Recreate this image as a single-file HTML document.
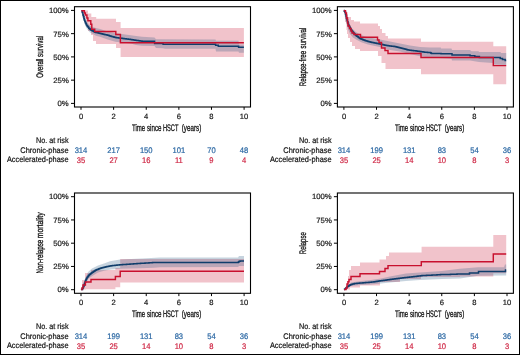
<!DOCTYPE html>
<html><head><meta charset="utf-8"><style>
html,body{margin:0;padding:0;background:#fff;width:520px;height:355px;overflow:hidden;}
svg{display:block;font-family:"Liberation Sans", sans-serif;will-change:transform;text-rendering:geometricPrecision;}
</style></head><body>
<svg width="520" height="355" viewBox="0 0 520 355">
<rect x="0" y="0" width="520" height="355" fill="#fff"/>
<path d="M81.40,10.60L88.00,10.60L88.00,13.40L91.30,13.40L91.30,16.90L96.20,16.90L96.20,18.80L116.00,18.80L116.00,22.00L120.60,22.00L120.60,28.00L243.90,28.00L243.90,57.00L120.60,57.00L120.60,48.00L116.00,48.00L116.00,44.00L96.00,44.00L96.00,41.00L93.00,41.00L93.00,35.00L91.00,35.00L91.00,31.00L88.00,31.00L88.00,24.00L86.00,24.00L86.00,18.00L84.00,18.00L84.00,12.00L81.40,12.00Z" fill="#c8102e" fill-opacity="0.250"/>
<path d="M81.40,10.60L84.00,14.50L86.00,19.50L88.00,23.50L91.00,26.50L96.00,28.00L100.00,29.10L107.70,31.40L115.40,33.30L121.50,34.10L130.80,35.20L136.00,36.10L142.00,36.80L154.50,37.40L156.00,39.20L215.50,39.40L216.00,40.80L238.50,40.80L239.00,44.50L243.90,44.50L243.90,52.80L239.00,52.80L238.50,51.40L216.00,51.40L215.50,48.80L165.00,48.80L163.00,48.30L156.00,48.00L154.50,46.00L142.00,45.80L136.00,45.00L130.80,43.50L121.50,42.50L115.40,41.80L107.70,39.50L100.00,36.80L96.00,35.80L90.00,32.50L87.00,29.00L85.00,25.00L83.00,17.50L81.40,10.60Z" fill="#1d4f7c" fill-opacity="0.250"/>
<path d="M81.40,10.70H82.20V12.50H82.90V14.90H83.40V16.85H83.90V18.80H84.40V20.13H84.90V21.47H85.40V22.80H85.90V23.77H86.40V24.73H86.90V25.70H87.53V26.53H88.17V27.37H88.80V28.20H89.30V28.60H89.80V29.00H90.30V29.40H90.80V29.80H91.30V30.20H91.80V30.60H92.36V30.86H92.91V31.11H93.47V31.37H94.03V31.63H94.59V31.89H95.14V32.14H95.70V32.40H96.20V32.51H96.70V32.62H97.20V32.74H97.70V32.85H98.20V32.96H98.70V33.07H99.20V33.19H99.70V33.30H100.20V33.42H100.70V33.55H101.20V33.67H101.70V33.80H102.20V33.92H102.70V34.05H103.20V34.17H103.70V34.30H104.20V34.41H104.70V34.52H105.20V34.64H105.70V34.75H106.20V34.86H106.70V34.98H107.20V35.09H107.70V35.20H108.24V35.37H108.79V35.54H109.33V35.71H109.87V35.89H110.41V36.06H110.96V36.23H111.50V36.40H112.06V36.56H112.61V36.71H113.17V36.87H113.73V37.03H114.29V37.19H114.84V37.34H115.40V37.50H115.91V37.57H116.42V37.63H116.93V37.70H117.43V37.77H117.94V37.83H118.45V37.90H118.96V37.97H119.47V38.03H119.97V38.10H120.48V38.17H120.99V38.23H121.50V38.30H122.02V38.37H122.53V38.43H123.05V38.50H123.57V38.57H124.08V38.63H124.60V38.70H125.12V38.77H125.63V38.83H126.15V38.90H126.67V38.97H127.18V39.03H127.70V39.10H128.22V39.17H128.73V39.23H129.25V39.30H129.77V39.37H130.28V39.43H130.80V39.50H131.32V39.58H131.84V39.66H132.36V39.74H132.88V39.82H133.40V39.90H133.92V39.98H134.44V40.06H134.96V40.14H135.48V40.22H136.00V40.30H136.50V40.38H137.00V40.45H137.50V40.52H138.00V40.60H138.50V40.67H139.00V40.75H139.50V40.83H140.00V40.90H140.50V40.98H141.00V41.05H141.50V41.12H142.00V41.20H154.50H154.60V43.40H163.00H163.10V44.30H163.60H164.11H164.61H165.12H165.62H166.12H166.63H167.13H167.63H168.14H168.64H169.15H169.65H170.15H170.66H171.16H171.67H172.17H172.67H173.18H173.68H174.18H174.69H175.19H175.70H176.20H176.70H177.21H177.71H178.22H178.72H179.22H179.73H180.23H180.73H181.24H181.74H182.25H182.75H183.25H183.76H184.26H184.77H185.27H185.77H186.28H186.78H187.28H187.79H188.29H188.80H189.30H189.80H190.31H190.81H191.32H191.82H192.32H192.83H193.33H193.83H194.34H194.84H195.35H195.85H196.35H196.86H197.36H197.87H198.37H198.87H199.38H199.88H200.38H200.89H201.39H201.90H202.40H202.90H203.41H203.91H204.42H204.92H205.42H205.93H206.43H206.93H207.44H207.94H208.45H208.95H209.45H209.96H210.46H210.97H211.47H211.97H212.48H212.98H213.48H213.99H214.49H215.00H215.50H215.60V45.30H218.20H218.30V46.20H238.50H238.60V47.30H243.90" fill="none" stroke="#0f3d6b" stroke-width="1.5" stroke-linejoin="miter"/>
<path d="M81.40,10.70H84.40V13.00H85.40V15.00H86.90V18.00H87.90V20.80H90.80V24.20H91.80V29.20H94.70V31.40H115.80V34.50H120.40V42.65H243.90" fill="none" stroke="#c8102e" stroke-width="1.45" stroke-linejoin="miter"/>
<path d="M343.80,10.60L345.00,10.60L345.00,14.00L348.00,14.00L348.00,17.00L351.00,17.00L351.00,20.00L354.00,20.00L354.00,21.50L360.00,21.50L360.00,23.50L378.00,23.50L378.00,26.00L380.00,26.00L380.00,29.00L382.00,29.00L382.00,33.00L385.50,33.00L385.50,36.00L388.00,36.00L388.00,38.50L421.00,38.50L421.00,41.80L493.30,41.80L493.30,46.20L506.20,46.20L506.20,84.20L493.30,84.20L493.30,74.20L421.00,74.20L421.00,69.00L385.50,69.00L385.50,63.00L381.50,63.00L381.50,56.00L378.00,56.00L378.00,51.00L360.00,51.00L360.00,49.00L355.00,49.00L355.00,46.00L352.00,46.00L352.00,42.00L350.00,42.00L350.00,38.00L348.00,38.00L348.00,34.00L347.00,34.00L347.00,30.00L346.50,30.00L346.50,22.00L345.00,22.00L345.00,12.00L343.80,12.00Z" fill="#c8102e" fill-opacity="0.250"/>
<path d="M343.80,10.60L346.00,15.00L349.00,25.00L352.00,28.50L356.00,32.00L360.00,34.50L365.00,36.50L372.00,38.00L380.00,39.50L390.00,41.50L400.00,43.50L410.00,45.50L420.00,47.00L430.00,47.60L440.80,47.60L441.00,48.40L451.50,48.40L452.00,49.90L470.00,49.90L471.50,51.20L478.50,51.20L479.00,51.90L500.50,51.90L501.00,53.10L506.20,53.10L506.20,65.00L493.50,64.50L493.00,63.00L479.00,62.00L470.00,60.60L452.00,60.50L451.50,58.70L430.00,57.50L420.00,56.20L410.00,54.00L400.00,51.50L390.00,50.00L382.00,47.50L375.00,46.00L368.00,44.50L362.00,42.50L357.00,40.00L353.00,37.50L350.00,34.00L348.00,29.00L345.00,18.00L343.80,10.60Z" fill="#1d4f7c" fill-opacity="0.250"/>
<path d="M343.80,10.60H344.30V11.30H344.80V12.00H345.50V14.00H346.00V16.00H346.50V18.00H347.00V20.00H347.50V21.67H348.00V23.33H348.50V25.00H349.00V26.00H349.50V27.00H350.00V28.00H350.50V29.00H351.00V29.70H351.50V30.40H352.00V31.10H352.50V31.80H353.00V32.50H353.50V33.00H354.00V33.50H354.50V34.00H355.00V34.50H355.50V35.00H356.00V35.50H356.50V35.88H357.00V36.25H357.50V36.62H358.00V37.00H358.50V37.38H359.00V37.75H359.50V38.12H360.00V38.50H360.50V38.70H361.00V38.90H361.50V39.10H362.00V39.30H362.50V39.50H363.00V39.70H363.50V39.90H364.00V40.10H364.50V40.30H365.00V40.50H365.50V40.65H366.00V40.80H366.50V40.95H367.00V41.10H367.50V41.25H368.00V41.40H368.50V41.55H369.00V41.70H369.50V41.85H370.00V42.00H370.50V42.10H371.00V42.20H371.50V42.30H372.00V42.40H372.50V42.50H373.00V42.60H373.50V42.70H374.00V42.80H374.50V42.90H375.00V43.00H375.50V43.10H376.00V43.20H376.50V43.30H377.00V43.40H377.50V43.50H378.00V43.60H378.50V43.70H379.00V43.80H379.50V43.90H380.00V44.00H380.50V44.12H381.00V44.24H381.50V44.36H382.00V44.48H382.50V44.60H383.00V44.72H383.50V44.84H384.00V44.96H384.50V45.08H385.00V45.20H385.50V45.28H386.00V45.36H386.50V45.44H387.00V45.52H387.50V45.60H388.00V45.68H388.50V45.76H389.00V45.84H389.50V45.92H390.00V46.00H390.50V46.05H391.00V46.10H391.50V46.15H392.00V46.20H392.50V46.25H393.00V46.30H393.50V46.35H394.00V46.40H394.50V46.45H395.00V46.50H395.50V46.63H396.00V46.76H396.50V46.89H397.00V47.02H397.50V47.15H398.00V47.28H398.50V47.41H399.00V47.54H399.50V47.67H400.00V47.80H400.50V47.92H401.00V48.04H401.50V48.16H402.00V48.28H402.50V48.40H403.00V48.52H403.50V48.64H404.00V48.76H404.50V48.88H405.00V49.00H405.50V49.17H406.00V49.33H406.50V49.50H407.00V49.67H407.50V49.83H408.00V50.00H408.50V50.06H409.00V50.11H409.50V50.17H410.00V50.23H410.50V50.29H411.00V50.34H411.50V50.40H412.00V50.46H412.50V50.51H413.00V50.57H413.50V50.63H414.00V50.69H414.50V50.74H415.00V50.80H415.50V50.87H416.00V50.94H416.50V51.01H417.00V51.08H417.50V51.15H418.00V51.22H418.50V51.29H419.00V51.36H419.50V51.43H420.00V51.50H420.50V51.57H421.00V51.64H421.50V51.71H422.00V51.78H422.50V51.85H423.00V51.92H423.50V51.99H424.00V52.06H424.50V52.13H425.00V52.20H425.50V52.24H426.00V52.28H426.50V52.32H427.00V52.36H427.50V52.40H428.00V52.44H428.50V52.48H429.00V52.52H429.50V52.56H430.00V52.60H430.50V52.87H431.00V53.13H431.50V53.40H440.80H441.00V53.80H451.80H452.00V55.10H469.50H470.00V55.80H474.60H474.80V56.50H479.20H479.40V57.60H479.90H480.40H480.91H481.41H481.91H482.41H482.92H483.42H483.92H484.42H484.93H485.43H485.93H486.43H486.94H487.44H487.94H488.44H488.95H489.45H489.95H490.45H490.96H491.46H491.96H492.46H492.97H493.47H493.97H494.47H494.98H495.48H495.98H496.48H496.99H497.49H497.99H498.49H499.00H499.50H500.00H500.20V58.50H502.30H502.50V59.60H505.00H505.20V60.40H506.20" fill="none" stroke="#0f3d6b" stroke-width="1.5" stroke-linejoin="miter"/>
<path d="M343.80,10.60H345.50V13.00H346.50V18.00H347.50V23.00H348.00V26.00H349.50V28.50H351.00V31.00H352.00V33.00H354.00V34.50H360.50V37.20H377.50V40.00H379.00V42.50H381.50V48.00H385.00V50.50H388.00V53.50H421.00V57.50H493.30V65.60H506.20" fill="none" stroke="#c8102e" stroke-width="1.45" stroke-linejoin="miter"/>
<path d="M81.00,289.00L82.00,289.00L82.00,280.00L85.00,280.00L85.00,273.00L91.00,273.00L91.00,270.00L115.40,270.00L115.40,268.00L120.20,268.00L120.20,259.00L244.00,259.00L244.00,282.50L120.20,282.50L120.20,287.30L115.40,287.30L115.40,289.30L86.00,289.30L86.00,289.60L81.00,289.60Z" fill="#c8102e" fill-opacity="0.250"/>
<path d="M81.00,289.60L83.00,284.00L85.00,279.00L88.00,272.00L92.00,268.50L98.00,265.50L104.00,263.50L110.00,261.20L120.00,259.60L131.00,259.00L142.00,258.40L160.00,257.50L238.00,257.50L239.00,256.00L244.00,256.00L244.00,266.00L239.00,266.00L238.00,267.00L160.00,267.20L154.00,267.80L140.00,268.30L120.00,268.80L111.00,269.50L104.00,270.80L98.00,272.50L93.00,275.50L88.00,279.00L86.00,283.00L84.00,288.50L81.00,289.60Z" fill="#1d4f7c" fill-opacity="0.250"/>
<path d="M81.00,289.60H81.50V289.55H82.00V289.50H82.50V288.50H83.00V287.50H83.50V286.25H84.00V285.00H84.50V283.50H85.00V282.00H85.50V280.50H86.00V279.50H86.50V278.50H87.00V277.50H87.50V276.88H88.00V276.25H88.50V275.62H89.00V275.00H89.50V274.58H90.00V274.17H90.50V273.75H91.00V273.33H91.50V272.92H92.00V272.50H92.50V272.19H93.00V271.88H93.50V271.56H94.00V271.25H94.50V270.94H95.00V270.62H95.50V270.31H96.00V270.00H96.50V269.80H97.00V269.60H97.50V269.40H98.00V269.20H98.50V269.00H99.00V268.80H99.50V268.60H100.00V268.40H100.50V268.20H101.00V268.00H101.50V267.88H102.00V267.76H102.50V267.64H103.00V267.52H103.50V267.40H104.00V267.28H104.50V267.16H105.00V267.04H105.50V266.92H106.00V266.80H106.50V266.70H107.00V266.60H107.50V266.50H108.00V266.40H108.50V266.30H109.00V266.20H109.50V266.10H110.00V266.00H110.50V265.90H111.00V265.80H111.50V265.74H112.00V265.68H112.50V265.62H113.00V265.56H113.50V265.50H114.00V265.44H114.50V265.38H115.00V265.32H115.50V265.26H116.00V265.20H116.50V265.15H117.00V265.10H117.50V265.05H118.00V265.00H118.50V264.95H119.00V264.90H119.50V264.85H120.00V264.80H120.50V264.76H121.00V264.73H121.50V264.69H122.00V264.66H122.50V264.62H123.00V264.59H123.50V264.56H124.00V264.52H124.50V264.49H125.00V264.45H125.50V264.42H126.00V264.38H126.50V264.35H127.00V264.31H127.50V264.28H128.00V264.24H128.50V264.21H129.00V264.17H129.50V264.14H130.00V264.10H130.50V264.06H131.00V264.03H131.50V264.00H132.00V263.96H132.50V263.93H133.00V263.89H133.50V263.86H134.00V263.82H134.50V263.79H135.00V263.75H135.50V263.71H136.00V263.68H136.50V263.64H137.00V263.61H137.50V263.57H138.00V263.54H138.50V263.50H139.00V263.47H139.50V263.44H140.00V263.40H140.50V263.37H141.00V263.34H141.50V263.31H142.00V263.28H142.50V263.25H143.00V263.22H143.50V263.19H144.00V263.16H144.50V263.13H145.00V263.10H145.50V263.07H146.00V263.04H146.50V263.01H147.00V262.98H147.50V262.95H148.00V262.92H148.50V262.89H149.00V262.86H149.50V262.83H150.00V262.80H150.50V262.76H151.00V262.72H151.50V262.68H152.00V262.64H152.50V262.60H153.00V262.56H153.50V262.52H154.00V262.48H154.50V262.44H155.00V262.40H155.50H156.00H156.51H157.01H157.51H158.01H158.51H159.01H159.52H160.02H160.52H161.02H161.52H162.03H162.53H163.03H163.53H164.03H164.53H165.04H165.54H166.04H166.54H167.04H167.55H168.05H168.55H169.05H169.55H170.05H170.56H171.06H171.56H172.06H172.56H173.07H173.57H174.07H174.57H175.07H175.57H176.08H176.58H177.08H177.58H178.08H178.59H179.09H179.59H180.09H180.59H181.09H181.60H182.10H182.60H183.10H183.60H184.11H184.61H185.11H185.61H186.11H186.61H187.12H187.62H188.12H188.62H189.12H189.63H190.13H190.63H191.13H191.63H192.13H192.64H193.14H193.64H194.14H194.64H195.15H195.65H196.15H196.65H197.15H197.65H198.16H198.66H199.16H199.66H200.16H200.67H201.17H201.67H202.17H202.67H203.17H203.68H204.18H204.68H205.18H205.68H206.19H206.69H207.19H207.69H208.19H208.69H209.20H209.70H210.20H210.70H211.20H211.71H212.21H212.71H213.21H213.71H214.21H214.72H215.22H215.72H216.22H216.72H217.23H217.73H218.23H218.73H219.23H219.73H220.24H220.74H221.24H221.74H222.24H222.75H223.25H223.75H224.25H224.75H225.25H225.76H226.26H226.76H227.26H227.76H228.27H228.77H229.27H229.77H230.27H230.77H231.28H231.78H232.28H232.78H233.28H233.79H234.29H234.79H235.29H235.79H236.29H236.80H237.30H237.80H238.35V261.95H238.90V261.60H239.50V261.30H240.10V261.00H244.00" fill="none" stroke="#0f3d6b" stroke-width="1.5" stroke-linejoin="miter"/>
<path d="M81.00,289.60H82.00V288.00H83.00V285.00H85.40V282.00H91.00V279.40H115.40V276.50H120.20V271.20H244.00" fill="none" stroke="#c8102e" stroke-width="1.45" stroke-linejoin="miter"/>
<path d="M344.00,289.00L347.00,289.00L347.00,281.00L348.00,281.00L348.00,276.00L349.00,276.00L349.00,270.00L351.00,270.00L351.00,266.00L360.00,266.00L360.00,262.50L379.50,262.50L379.50,259.50L386.00,259.50L386.00,256.00L389.00,256.00L389.00,252.40L421.60,252.40L421.60,246.70L493.30,246.70L493.30,234.90L506.20,234.90L506.20,273.30L493.30,273.30L493.30,276.40L460.00,276.40L460.00,277.00L421.00,277.00L421.00,279.00L400.00,279.00L400.00,282.00L380.00,282.00L380.00,285.50L360.00,285.50L360.00,287.50L350.00,287.50L350.00,289.60L344.00,289.60Z" fill="#c8102e" fill-opacity="0.250"/>
<path d="M344.00,289.60L348.00,286.00L351.00,282.50L361.00,281.00L371.00,280.00L381.00,278.50L390.00,276.50L406.00,273.50L420.00,272.50L442.00,271.00L460.00,268.80L478.00,267.20L504.00,267.20L505.00,264.60L506.20,264.60L506.20,275.40L504.00,275.60L478.00,275.80L460.00,278.60L442.00,279.00L420.00,280.00L406.00,281.00L390.00,282.50L381.00,283.50L371.00,284.50L361.00,285.00L351.00,286.00L344.00,289.60Z" fill="#1d4f7c" fill-opacity="0.250"/>
<path d="M344.00,289.60H344.50V289.27H345.00V288.93H345.50V288.60H346.00V288.07H346.50V287.53H347.00V287.00H347.50V286.62H348.00V286.25H348.50V285.88H349.00V285.50H349.50V285.25H350.00V285.00H350.50V284.75H351.00V284.50H351.50V284.38H352.00V284.25H352.50V284.12H353.00V284.00H353.50V283.88H354.00V283.75H354.50V283.62H355.00V283.50H355.50V283.46H356.00V283.42H356.50V283.38H357.00V283.33H357.50V283.29H358.00V283.25H358.50V283.21H359.00V283.17H359.50V283.12H360.00V283.08H360.50V283.04H361.00V283.00H361.50V282.96H362.00V282.92H362.50V282.88H363.00V282.83H363.50V282.79H364.00V282.75H364.50V282.71H365.00V282.67H365.50V282.62H366.00V282.58H366.50V282.54H367.00V282.50H367.50V282.46H368.00V282.42H368.50V282.38H369.00V282.33H369.50V282.29H370.00V282.25H370.50V282.21H371.00V282.17H371.50V282.12H372.00V282.08H372.50V282.04H373.00V282.00H373.50V281.92H374.00V281.83H374.50V281.75H375.00V281.67H375.50V281.58H376.00V281.50H376.50V281.42H377.00V281.33H377.50V281.25H378.00V281.17H378.50V281.08H379.00V281.00H379.50V280.93H380.00V280.87H380.50V280.80H381.00V280.73H381.50V280.67H382.00V280.60H382.50V280.53H383.00V280.47H383.50V280.40H384.00V280.33H384.50V280.27H385.00V280.20H385.50V280.13H386.00V280.06H386.50V279.99H387.00V279.92H387.50V279.85H388.00V279.78H388.50V279.71H389.00V279.64H389.50V279.57H390.00V279.50H390.50V279.44H391.00V279.37H391.50V279.31H392.00V279.24H392.50V279.18H393.00V279.11H393.50V279.05H394.00V278.98H394.50V278.92H395.00V278.85H395.50V278.78H396.00V278.72H396.50V278.65H397.00V278.59H397.50V278.52H398.00V278.46H398.50V278.39H399.00V278.33H399.50V278.26H400.00V278.20H400.50V278.14H401.00V278.08H401.50V278.02H402.00V277.97H402.50V277.91H403.00V277.85H403.50V277.79H404.00V277.73H404.50V277.68H405.00V277.62H405.50V277.56H406.00V277.50H406.50V277.44H407.00V277.39H407.50V277.33H408.00V277.28H408.50V277.22H409.00V277.17H409.50V277.11H410.00V277.06H410.50V277.00H411.00V276.94H411.50V276.89H412.00V276.83H412.50V276.78H413.00V276.72H413.50V276.67H414.00V276.61H414.50V276.56H415.00V276.50H415.50V276.44H416.00V276.38H416.50V276.31H417.00V276.25H417.50V276.19H418.00V276.12H418.50V276.06H419.00V276.00H419.50V275.94H420.00V275.88H420.50V275.81H421.00V275.75H421.50V275.69H422.00V275.62H422.50V275.56H423.00V275.50H423.50V275.48H424.00V275.46H424.50V275.44H425.00V275.42H425.50V275.40H426.00V275.38H426.50V275.35H427.00V275.33H427.50V275.31H428.00V275.29H428.50V275.27H429.00V275.25H429.50V275.23H430.00V275.21H430.50V275.19H431.00V275.17H431.50V275.15H432.00V275.12H432.50V275.10H433.00V275.08H433.50V275.06H434.00V275.04H434.50V275.02H435.00V275.00H435.50V274.96H436.00V274.93H436.50V274.89H437.00V274.86H437.50V274.82H438.00V274.79H438.50V274.75H439.00V274.71H439.50V274.68H440.00V274.64H440.50V274.61H441.00V274.57H441.50V274.54H442.00V274.50H442.50H443.00H443.50H444.00V274.46H444.50H445.00H445.50H446.00H446.50H447.00V274.40H447.50H448.00H448.50H449.00H449.50H450.00H450.50V274.33H451.00H451.50H452.00H452.50V274.28H453.00V274.26H453.50V274.24H454.00V274.23H454.50V274.21H455.00V274.19H455.50V274.17H456.00V274.15H456.50V274.13H457.00V274.11H457.50V274.09H458.00V274.07H458.50V274.06H459.00V274.04H459.50V274.02H460.00V274.00H469.00H469.50V272.90H478.00H478.50V271.40H505.00H505.50V269.90H506.20" fill="none" stroke="#0f3d6b" stroke-width="1.5" stroke-linejoin="miter"/>
<path d="M344.00,289.60H346.00V288.00H347.00V284.00H348.00V281.80H349.00V279.50H351.00V276.50H360.00V273.80H379.50V271.50H385.00V268.50H388.00V265.60H421.30V261.70H493.30V254.00H506.20" fill="none" stroke="#c8102e" stroke-width="1.45" stroke-linejoin="miter"/>
<rect x="74.50" y="6.70" width="176.00" height="100.30" fill="none" stroke="#000" stroke-width="1.1"/>
<line x1="71.00" y1="10.40" x2="74.50" y2="10.40" stroke="#000" stroke-width="1"/>
<text x="68.75" y="13.25" font-size="7.60" text-anchor="end" fill="#1a1a1a" stroke="#1a1a1a" stroke-width="0.20" textLength="19.74" lengthAdjust="spacingAndGlyphs">100%</text>
<line x1="71.00" y1="33.65" x2="74.50" y2="33.65" stroke="#000" stroke-width="1"/>
<text x="68.75" y="36.50" font-size="7.60" text-anchor="end" fill="#1a1a1a" stroke="#1a1a1a" stroke-width="0.20" textLength="15.45" lengthAdjust="spacingAndGlyphs">75%</text>
<line x1="71.00" y1="56.90" x2="74.50" y2="56.90" stroke="#000" stroke-width="1"/>
<text x="68.75" y="59.75" font-size="7.60" text-anchor="end" fill="#1a1a1a" stroke="#1a1a1a" stroke-width="0.20" textLength="15.45" lengthAdjust="spacingAndGlyphs">50%</text>
<line x1="71.00" y1="80.15" x2="74.50" y2="80.15" stroke="#000" stroke-width="1"/>
<text x="68.75" y="83.00" font-size="7.60" text-anchor="end" fill="#1a1a1a" stroke="#1a1a1a" stroke-width="0.20" textLength="15.45" lengthAdjust="spacingAndGlyphs">25%</text>
<line x1="71.00" y1="103.40" x2="74.50" y2="103.40" stroke="#000" stroke-width="1"/>
<text x="68.75" y="106.25" font-size="7.60" text-anchor="end" fill="#1a1a1a" stroke="#1a1a1a" stroke-width="0.20" textLength="11.16" lengthAdjust="spacingAndGlyphs">0%</text>
<line x1="81.00" y1="107.00" x2="81.00" y2="109.80" stroke="#000" stroke-width="1"/>
<text x="81.00" y="118.50" font-size="7.60" text-anchor="middle" fill="#1a1a1a" stroke="#1a1a1a" stroke-width="0.20">0</text>
<line x1="113.62" y1="107.00" x2="113.62" y2="109.80" stroke="#000" stroke-width="1"/>
<text x="113.62" y="118.50" font-size="7.60" text-anchor="middle" fill="#1a1a1a" stroke="#1a1a1a" stroke-width="0.20">2</text>
<line x1="146.24" y1="107.00" x2="146.24" y2="109.80" stroke="#000" stroke-width="1"/>
<text x="146.24" y="118.50" font-size="7.60" text-anchor="middle" fill="#1a1a1a" stroke="#1a1a1a" stroke-width="0.20">4</text>
<line x1="178.86" y1="107.00" x2="178.86" y2="109.80" stroke="#000" stroke-width="1"/>
<text x="178.86" y="118.50" font-size="7.60" text-anchor="middle" fill="#1a1a1a" stroke="#1a1a1a" stroke-width="0.20">6</text>
<line x1="211.48" y1="107.00" x2="211.48" y2="109.80" stroke="#000" stroke-width="1"/>
<text x="211.48" y="118.50" font-size="7.60" text-anchor="middle" fill="#1a1a1a" stroke="#1a1a1a" stroke-width="0.20">8</text>
<line x1="244.10" y1="107.00" x2="244.10" y2="109.80" stroke="#000" stroke-width="1"/>
<text x="244.10" y="118.50" font-size="7.60" text-anchor="middle" fill="#1a1a1a" stroke="#1a1a1a" stroke-width="0.20">10</text>
<text x="131.92" y="130.80" font-size="9.50" fill="#111111" textLength="13.20" lengthAdjust="spacingAndGlyphs" stroke="#111" stroke-width="0.3">Time</text>
<text x="146.98" y="130.80" font-size="9.50" fill="#111111" textLength="14.45" lengthAdjust="spacingAndGlyphs" stroke="#111" stroke-width="0.3">since</text>
<text x="162.88" y="130.80" font-size="9.50" fill="#111111" textLength="15.50" lengthAdjust="spacingAndGlyphs" stroke="#111" stroke-width="0.3">HSCT</text>
<text x="181.76" y="130.80" font-size="9.50" fill="#111111" textLength="19.48" lengthAdjust="spacingAndGlyphs" stroke="#111" stroke-width="0.3">(years)</text>
<text transform="translate(42.60,0.00) rotate(-90)" x="-57.03" y="0" font-size="9.50" fill="#111111" textLength="21.40" lengthAdjust="spacingAndGlyphs" stroke="#111" stroke-width="0.3">survival</text>
<text transform="translate(42.60,0.00) rotate(-90)" x="-77.64" y="0" font-size="9.50" fill="#111111" textLength="19.09" lengthAdjust="spacingAndGlyphs" stroke="#111" stroke-width="0.3">Overall</text>
<text x="68.60" y="142.80" font-size="8.10" text-anchor="end" fill="#111111" stroke="#111111" stroke-width="0.20" textLength="32.70" lengthAdjust="spacingAndGlyphs">No. at risk</text>
<text x="68.60" y="152.90" font-size="8.10" text-anchor="end" fill="#111111" stroke="#111111" stroke-width="0.20" textLength="48.30" lengthAdjust="spacingAndGlyphs">Chronic-phase</text>
<text x="68.60" y="162.00" font-size="8.10" text-anchor="end" fill="#111111" stroke="#111111" stroke-width="0.20" textLength="61.70" lengthAdjust="spacingAndGlyphs">Accelerated-phase</text>
<text x="81.00" y="153.00" font-size="8.10" text-anchor="middle" fill="#2a67a3" stroke="#2a67a3" stroke-width="0.20" textLength="12.70" lengthAdjust="spacingAndGlyphs">314</text>
<text x="81.00" y="162.50" font-size="8.10" text-anchor="middle" fill="#cf2745" stroke="#cf2745" stroke-width="0.20" textLength="8.46" lengthAdjust="spacingAndGlyphs">35</text>
<text x="113.62" y="153.00" font-size="8.10" text-anchor="middle" fill="#2a67a3" stroke="#2a67a3" stroke-width="0.20" textLength="12.70" lengthAdjust="spacingAndGlyphs">217</text>
<text x="113.62" y="162.50" font-size="8.10" text-anchor="middle" fill="#cf2745" stroke="#cf2745" stroke-width="0.20" textLength="8.46" lengthAdjust="spacingAndGlyphs">27</text>
<text x="146.24" y="153.00" font-size="8.10" text-anchor="middle" fill="#2a67a3" stroke="#2a67a3" stroke-width="0.20" textLength="12.70" lengthAdjust="spacingAndGlyphs">150</text>
<text x="146.24" y="162.50" font-size="8.10" text-anchor="middle" fill="#cf2745" stroke="#cf2745" stroke-width="0.20" textLength="8.46" lengthAdjust="spacingAndGlyphs">16</text>
<text x="178.86" y="153.00" font-size="8.10" text-anchor="middle" fill="#2a67a3" stroke="#2a67a3" stroke-width="0.20" textLength="12.70" lengthAdjust="spacingAndGlyphs">101</text>
<text x="178.86" y="162.50" font-size="8.10" text-anchor="middle" fill="#cf2745" stroke="#cf2745" stroke-width="0.20" textLength="7.90" lengthAdjust="spacingAndGlyphs">11</text>
<text x="211.48" y="153.00" font-size="8.10" text-anchor="middle" fill="#2a67a3" stroke="#2a67a3" stroke-width="0.20" textLength="8.46" lengthAdjust="spacingAndGlyphs">70</text>
<text x="211.48" y="162.50" font-size="8.10" text-anchor="middle" fill="#cf2745" stroke="#cf2745" stroke-width="0.20" textLength="4.23" lengthAdjust="spacingAndGlyphs">9</text>
<text x="244.10" y="153.00" font-size="8.10" text-anchor="middle" fill="#2a67a3" stroke="#2a67a3" stroke-width="0.20" textLength="8.46" lengthAdjust="spacingAndGlyphs">48</text>
<text x="244.10" y="162.50" font-size="8.10" text-anchor="middle" fill="#cf2745" stroke="#cf2745" stroke-width="0.20" textLength="4.23" lengthAdjust="spacingAndGlyphs">4</text>
<rect x="337.40" y="6.70" width="176.00" height="100.30" fill="none" stroke="#000" stroke-width="1.1"/>
<line x1="333.90" y1="10.40" x2="337.40" y2="10.40" stroke="#000" stroke-width="1"/>
<text x="331.75" y="13.25" font-size="7.60" text-anchor="end" fill="#1a1a1a" stroke="#1a1a1a" stroke-width="0.20" textLength="19.74" lengthAdjust="spacingAndGlyphs">100%</text>
<line x1="333.90" y1="33.65" x2="337.40" y2="33.65" stroke="#000" stroke-width="1"/>
<text x="331.75" y="36.50" font-size="7.60" text-anchor="end" fill="#1a1a1a" stroke="#1a1a1a" stroke-width="0.20" textLength="15.45" lengthAdjust="spacingAndGlyphs">75%</text>
<line x1="333.90" y1="56.90" x2="337.40" y2="56.90" stroke="#000" stroke-width="1"/>
<text x="331.75" y="59.75" font-size="7.60" text-anchor="end" fill="#1a1a1a" stroke="#1a1a1a" stroke-width="0.20" textLength="15.45" lengthAdjust="spacingAndGlyphs">50%</text>
<line x1="333.90" y1="80.15" x2="337.40" y2="80.15" stroke="#000" stroke-width="1"/>
<text x="331.75" y="83.00" font-size="7.60" text-anchor="end" fill="#1a1a1a" stroke="#1a1a1a" stroke-width="0.20" textLength="15.45" lengthAdjust="spacingAndGlyphs">25%</text>
<line x1="333.90" y1="103.40" x2="337.40" y2="103.40" stroke="#000" stroke-width="1"/>
<text x="331.75" y="106.25" font-size="7.60" text-anchor="end" fill="#1a1a1a" stroke="#1a1a1a" stroke-width="0.20" textLength="11.16" lengthAdjust="spacingAndGlyphs">0%</text>
<line x1="343.90" y1="107.00" x2="343.90" y2="109.80" stroke="#000" stroke-width="1"/>
<text x="344.00" y="118.50" font-size="7.60" text-anchor="middle" fill="#1a1a1a" stroke="#1a1a1a" stroke-width="0.20">0</text>
<line x1="376.52" y1="107.00" x2="376.52" y2="109.80" stroke="#000" stroke-width="1"/>
<text x="376.62" y="118.50" font-size="7.60" text-anchor="middle" fill="#1a1a1a" stroke="#1a1a1a" stroke-width="0.20">2</text>
<line x1="409.14" y1="107.00" x2="409.14" y2="109.80" stroke="#000" stroke-width="1"/>
<text x="409.24" y="118.50" font-size="7.60" text-anchor="middle" fill="#1a1a1a" stroke="#1a1a1a" stroke-width="0.20">4</text>
<line x1="441.76" y1="107.00" x2="441.76" y2="109.80" stroke="#000" stroke-width="1"/>
<text x="441.86" y="118.50" font-size="7.60" text-anchor="middle" fill="#1a1a1a" stroke="#1a1a1a" stroke-width="0.20">6</text>
<line x1="474.38" y1="107.00" x2="474.38" y2="109.80" stroke="#000" stroke-width="1"/>
<text x="474.48" y="118.50" font-size="7.60" text-anchor="middle" fill="#1a1a1a" stroke="#1a1a1a" stroke-width="0.20">8</text>
<line x1="507.00" y1="107.00" x2="507.00" y2="109.80" stroke="#000" stroke-width="1"/>
<text x="507.10" y="118.50" font-size="7.60" text-anchor="middle" fill="#1a1a1a" stroke="#1a1a1a" stroke-width="0.20">10</text>
<text x="394.92" y="130.80" font-size="9.50" fill="#111111" textLength="13.20" lengthAdjust="spacingAndGlyphs" stroke="#111" stroke-width="0.3">Time</text>
<text x="409.98" y="130.80" font-size="9.50" fill="#111111" textLength="14.45" lengthAdjust="spacingAndGlyphs" stroke="#111" stroke-width="0.3">since</text>
<text x="425.88" y="130.80" font-size="9.50" fill="#111111" textLength="15.50" lengthAdjust="spacingAndGlyphs" stroke="#111" stroke-width="0.3">HSCT</text>
<text x="444.76" y="130.80" font-size="9.50" fill="#111111" textLength="19.48" lengthAdjust="spacingAndGlyphs" stroke="#111" stroke-width="0.3">(years)</text>
<text transform="translate(305.60,0.00) rotate(-90)" x="-48.42" y="0" font-size="9.50" fill="#111111" textLength="20.78" lengthAdjust="spacingAndGlyphs" stroke="#111" stroke-width="0.3">survival</text>
<text transform="translate(305.60,0.00) rotate(-90)" x="-86.16" y="0" font-size="9.50" fill="#111111" textLength="35.28" lengthAdjust="spacingAndGlyphs" stroke="#111" stroke-width="0.3">Relapse-free</text>
<text x="331.60" y="142.80" font-size="8.10" text-anchor="end" fill="#111111" stroke="#111111" stroke-width="0.20" textLength="32.70" lengthAdjust="spacingAndGlyphs">No. at risk</text>
<text x="331.60" y="152.90" font-size="8.10" text-anchor="end" fill="#111111" stroke="#111111" stroke-width="0.20" textLength="48.30" lengthAdjust="spacingAndGlyphs">Chronic-phase</text>
<text x="331.60" y="162.00" font-size="8.10" text-anchor="end" fill="#111111" stroke="#111111" stroke-width="0.20" textLength="61.70" lengthAdjust="spacingAndGlyphs">Accelerated-phase</text>
<text x="344.00" y="153.00" font-size="8.10" text-anchor="middle" fill="#2a67a3" stroke="#2a67a3" stroke-width="0.20" textLength="12.70" lengthAdjust="spacingAndGlyphs">314</text>
<text x="344.00" y="162.50" font-size="8.10" text-anchor="middle" fill="#cf2745" stroke="#cf2745" stroke-width="0.20" textLength="8.46" lengthAdjust="spacingAndGlyphs">35</text>
<text x="376.62" y="153.00" font-size="8.10" text-anchor="middle" fill="#2a67a3" stroke="#2a67a3" stroke-width="0.20" textLength="12.70" lengthAdjust="spacingAndGlyphs">199</text>
<text x="376.62" y="162.50" font-size="8.10" text-anchor="middle" fill="#cf2745" stroke="#cf2745" stroke-width="0.20" textLength="8.46" lengthAdjust="spacingAndGlyphs">25</text>
<text x="409.24" y="153.00" font-size="8.10" text-anchor="middle" fill="#2a67a3" stroke="#2a67a3" stroke-width="0.20" textLength="12.70" lengthAdjust="spacingAndGlyphs">131</text>
<text x="409.24" y="162.50" font-size="8.10" text-anchor="middle" fill="#cf2745" stroke="#cf2745" stroke-width="0.20" textLength="8.46" lengthAdjust="spacingAndGlyphs">14</text>
<text x="441.86" y="153.00" font-size="8.10" text-anchor="middle" fill="#2a67a3" stroke="#2a67a3" stroke-width="0.20" textLength="8.46" lengthAdjust="spacingAndGlyphs">83</text>
<text x="441.86" y="162.50" font-size="8.10" text-anchor="middle" fill="#cf2745" stroke="#cf2745" stroke-width="0.20" textLength="8.46" lengthAdjust="spacingAndGlyphs">10</text>
<text x="474.48" y="153.00" font-size="8.10" text-anchor="middle" fill="#2a67a3" stroke="#2a67a3" stroke-width="0.20" textLength="8.46" lengthAdjust="spacingAndGlyphs">54</text>
<text x="474.48" y="162.50" font-size="8.10" text-anchor="middle" fill="#cf2745" stroke="#cf2745" stroke-width="0.20" textLength="4.23" lengthAdjust="spacingAndGlyphs">8</text>
<text x="507.10" y="153.00" font-size="8.10" text-anchor="middle" fill="#2a67a3" stroke="#2a67a3" stroke-width="0.20" textLength="8.46" lengthAdjust="spacingAndGlyphs">36</text>
<text x="507.10" y="162.50" font-size="8.10" text-anchor="middle" fill="#cf2745" stroke="#cf2745" stroke-width="0.20" textLength="4.23" lengthAdjust="spacingAndGlyphs">3</text>
<rect x="74.50" y="193.00" width="176.00" height="100.30" fill="none" stroke="#000" stroke-width="1.1"/>
<line x1="71.00" y1="196.70" x2="74.50" y2="196.70" stroke="#000" stroke-width="1"/>
<text x="68.75" y="199.25" font-size="7.60" text-anchor="end" fill="#1a1a1a" stroke="#1a1a1a" stroke-width="0.20" textLength="19.74" lengthAdjust="spacingAndGlyphs">100%</text>
<line x1="71.00" y1="219.95" x2="74.50" y2="219.95" stroke="#000" stroke-width="1"/>
<text x="68.75" y="222.50" font-size="7.60" text-anchor="end" fill="#1a1a1a" stroke="#1a1a1a" stroke-width="0.20" textLength="15.45" lengthAdjust="spacingAndGlyphs">75%</text>
<line x1="71.00" y1="243.20" x2="74.50" y2="243.20" stroke="#000" stroke-width="1"/>
<text x="68.75" y="245.75" font-size="7.60" text-anchor="end" fill="#1a1a1a" stroke="#1a1a1a" stroke-width="0.20" textLength="15.45" lengthAdjust="spacingAndGlyphs">50%</text>
<line x1="71.00" y1="266.45" x2="74.50" y2="266.45" stroke="#000" stroke-width="1"/>
<text x="68.75" y="269.00" font-size="7.60" text-anchor="end" fill="#1a1a1a" stroke="#1a1a1a" stroke-width="0.20" textLength="15.45" lengthAdjust="spacingAndGlyphs">25%</text>
<line x1="71.00" y1="289.70" x2="74.50" y2="289.70" stroke="#000" stroke-width="1"/>
<text x="68.75" y="292.25" font-size="7.60" text-anchor="end" fill="#1a1a1a" stroke="#1a1a1a" stroke-width="0.20" textLength="11.16" lengthAdjust="spacingAndGlyphs">0%</text>
<line x1="81.00" y1="293.30" x2="81.00" y2="296.10" stroke="#000" stroke-width="1"/>
<text x="81.00" y="304.50" font-size="7.60" text-anchor="middle" fill="#1a1a1a" stroke="#1a1a1a" stroke-width="0.20">0</text>
<line x1="113.62" y1="293.30" x2="113.62" y2="296.10" stroke="#000" stroke-width="1"/>
<text x="113.62" y="304.50" font-size="7.60" text-anchor="middle" fill="#1a1a1a" stroke="#1a1a1a" stroke-width="0.20">2</text>
<line x1="146.24" y1="293.30" x2="146.24" y2="296.10" stroke="#000" stroke-width="1"/>
<text x="146.24" y="304.50" font-size="7.60" text-anchor="middle" fill="#1a1a1a" stroke="#1a1a1a" stroke-width="0.20">4</text>
<line x1="178.86" y1="293.30" x2="178.86" y2="296.10" stroke="#000" stroke-width="1"/>
<text x="178.86" y="304.50" font-size="7.60" text-anchor="middle" fill="#1a1a1a" stroke="#1a1a1a" stroke-width="0.20">6</text>
<line x1="211.48" y1="293.30" x2="211.48" y2="296.10" stroke="#000" stroke-width="1"/>
<text x="211.48" y="304.50" font-size="7.60" text-anchor="middle" fill="#1a1a1a" stroke="#1a1a1a" stroke-width="0.20">8</text>
<line x1="244.10" y1="293.30" x2="244.10" y2="296.10" stroke="#000" stroke-width="1"/>
<text x="244.10" y="304.50" font-size="7.60" text-anchor="middle" fill="#1a1a1a" stroke="#1a1a1a" stroke-width="0.20">10</text>
<text x="131.92" y="316.80" font-size="9.50" fill="#111111" textLength="13.20" lengthAdjust="spacingAndGlyphs" stroke="#111" stroke-width="0.3">Time</text>
<text x="146.98" y="316.80" font-size="9.50" fill="#111111" textLength="14.45" lengthAdjust="spacingAndGlyphs" stroke="#111" stroke-width="0.3">since</text>
<text x="162.88" y="316.80" font-size="9.50" fill="#111111" textLength="15.50" lengthAdjust="spacingAndGlyphs" stroke="#111" stroke-width="0.3">HSCT</text>
<text x="181.76" y="316.80" font-size="9.50" fill="#111111" textLength="19.48" lengthAdjust="spacingAndGlyphs" stroke="#111" stroke-width="0.3">(years)</text>
<text transform="translate(42.60,186.00) rotate(-90)" x="-52.30" y="0" font-size="9.50" fill="#111111" textLength="25.87" lengthAdjust="spacingAndGlyphs" stroke="#111" stroke-width="0.3">mortality</text>
<text transform="translate(42.60,186.00) rotate(-90)" x="-87.56" y="0" font-size="9.50" fill="#111111" textLength="33.78" lengthAdjust="spacingAndGlyphs" stroke="#111" stroke-width="0.3">Non-relapse</text>
<text x="68.60" y="328.80" font-size="8.10" text-anchor="end" fill="#111111" stroke="#111111" stroke-width="0.20" textLength="32.70" lengthAdjust="spacingAndGlyphs">No. at risk</text>
<text x="68.60" y="338.90" font-size="8.10" text-anchor="end" fill="#111111" stroke="#111111" stroke-width="0.20" textLength="48.30" lengthAdjust="spacingAndGlyphs">Chronic-phase</text>
<text x="68.60" y="348.00" font-size="8.10" text-anchor="end" fill="#111111" stroke="#111111" stroke-width="0.20" textLength="61.70" lengthAdjust="spacingAndGlyphs">Accelerated-phase</text>
<text x="81.00" y="339.00" font-size="8.10" text-anchor="middle" fill="#2a67a3" stroke="#2a67a3" stroke-width="0.20" textLength="12.70" lengthAdjust="spacingAndGlyphs">314</text>
<text x="81.00" y="348.50" font-size="8.10" text-anchor="middle" fill="#cf2745" stroke="#cf2745" stroke-width="0.20" textLength="8.46" lengthAdjust="spacingAndGlyphs">35</text>
<text x="113.62" y="339.00" font-size="8.10" text-anchor="middle" fill="#2a67a3" stroke="#2a67a3" stroke-width="0.20" textLength="12.70" lengthAdjust="spacingAndGlyphs">199</text>
<text x="113.62" y="348.50" font-size="8.10" text-anchor="middle" fill="#cf2745" stroke="#cf2745" stroke-width="0.20" textLength="8.46" lengthAdjust="spacingAndGlyphs">25</text>
<text x="146.24" y="339.00" font-size="8.10" text-anchor="middle" fill="#2a67a3" stroke="#2a67a3" stroke-width="0.20" textLength="12.70" lengthAdjust="spacingAndGlyphs">131</text>
<text x="146.24" y="348.50" font-size="8.10" text-anchor="middle" fill="#cf2745" stroke="#cf2745" stroke-width="0.20" textLength="8.46" lengthAdjust="spacingAndGlyphs">14</text>
<text x="178.86" y="339.00" font-size="8.10" text-anchor="middle" fill="#2a67a3" stroke="#2a67a3" stroke-width="0.20" textLength="8.46" lengthAdjust="spacingAndGlyphs">83</text>
<text x="178.86" y="348.50" font-size="8.10" text-anchor="middle" fill="#cf2745" stroke="#cf2745" stroke-width="0.20" textLength="8.46" lengthAdjust="spacingAndGlyphs">10</text>
<text x="211.48" y="339.00" font-size="8.10" text-anchor="middle" fill="#2a67a3" stroke="#2a67a3" stroke-width="0.20" textLength="8.46" lengthAdjust="spacingAndGlyphs">54</text>
<text x="211.48" y="348.50" font-size="8.10" text-anchor="middle" fill="#cf2745" stroke="#cf2745" stroke-width="0.20" textLength="4.23" lengthAdjust="spacingAndGlyphs">8</text>
<text x="244.10" y="339.00" font-size="8.10" text-anchor="middle" fill="#2a67a3" stroke="#2a67a3" stroke-width="0.20" textLength="8.46" lengthAdjust="spacingAndGlyphs">36</text>
<text x="244.10" y="348.50" font-size="8.10" text-anchor="middle" fill="#cf2745" stroke="#cf2745" stroke-width="0.20" textLength="4.23" lengthAdjust="spacingAndGlyphs">3</text>
<rect x="337.40" y="193.00" width="176.00" height="100.30" fill="none" stroke="#000" stroke-width="1.1"/>
<line x1="333.90" y1="196.70" x2="337.40" y2="196.70" stroke="#000" stroke-width="1"/>
<text x="331.75" y="199.25" font-size="7.60" text-anchor="end" fill="#1a1a1a" stroke="#1a1a1a" stroke-width="0.20" textLength="19.74" lengthAdjust="spacingAndGlyphs">100%</text>
<line x1="333.90" y1="219.95" x2="337.40" y2="219.95" stroke="#000" stroke-width="1"/>
<text x="331.75" y="222.50" font-size="7.60" text-anchor="end" fill="#1a1a1a" stroke="#1a1a1a" stroke-width="0.20" textLength="15.45" lengthAdjust="spacingAndGlyphs">75%</text>
<line x1="333.90" y1="243.20" x2="337.40" y2="243.20" stroke="#000" stroke-width="1"/>
<text x="331.75" y="245.75" font-size="7.60" text-anchor="end" fill="#1a1a1a" stroke="#1a1a1a" stroke-width="0.20" textLength="15.45" lengthAdjust="spacingAndGlyphs">50%</text>
<line x1="333.90" y1="266.45" x2="337.40" y2="266.45" stroke="#000" stroke-width="1"/>
<text x="331.75" y="269.00" font-size="7.60" text-anchor="end" fill="#1a1a1a" stroke="#1a1a1a" stroke-width="0.20" textLength="15.45" lengthAdjust="spacingAndGlyphs">25%</text>
<line x1="333.90" y1="289.70" x2="337.40" y2="289.70" stroke="#000" stroke-width="1"/>
<text x="331.75" y="292.25" font-size="7.60" text-anchor="end" fill="#1a1a1a" stroke="#1a1a1a" stroke-width="0.20" textLength="11.16" lengthAdjust="spacingAndGlyphs">0%</text>
<line x1="343.90" y1="293.30" x2="343.90" y2="296.10" stroke="#000" stroke-width="1"/>
<text x="344.00" y="304.50" font-size="7.60" text-anchor="middle" fill="#1a1a1a" stroke="#1a1a1a" stroke-width="0.20">0</text>
<line x1="376.52" y1="293.30" x2="376.52" y2="296.10" stroke="#000" stroke-width="1"/>
<text x="376.62" y="304.50" font-size="7.60" text-anchor="middle" fill="#1a1a1a" stroke="#1a1a1a" stroke-width="0.20">2</text>
<line x1="409.14" y1="293.30" x2="409.14" y2="296.10" stroke="#000" stroke-width="1"/>
<text x="409.24" y="304.50" font-size="7.60" text-anchor="middle" fill="#1a1a1a" stroke="#1a1a1a" stroke-width="0.20">4</text>
<line x1="441.76" y1="293.30" x2="441.76" y2="296.10" stroke="#000" stroke-width="1"/>
<text x="441.86" y="304.50" font-size="7.60" text-anchor="middle" fill="#1a1a1a" stroke="#1a1a1a" stroke-width="0.20">6</text>
<line x1="474.38" y1="293.30" x2="474.38" y2="296.10" stroke="#000" stroke-width="1"/>
<text x="474.48" y="304.50" font-size="7.60" text-anchor="middle" fill="#1a1a1a" stroke="#1a1a1a" stroke-width="0.20">8</text>
<line x1="507.00" y1="293.30" x2="507.00" y2="296.10" stroke="#000" stroke-width="1"/>
<text x="507.10" y="304.50" font-size="7.60" text-anchor="middle" fill="#1a1a1a" stroke="#1a1a1a" stroke-width="0.20">10</text>
<text x="394.92" y="316.80" font-size="9.50" fill="#111111" textLength="13.20" lengthAdjust="spacingAndGlyphs" stroke="#111" stroke-width="0.3">Time</text>
<text x="409.98" y="316.80" font-size="9.50" fill="#111111" textLength="14.45" lengthAdjust="spacingAndGlyphs" stroke="#111" stroke-width="0.3">since</text>
<text x="425.88" y="316.80" font-size="9.50" fill="#111111" textLength="15.50" lengthAdjust="spacingAndGlyphs" stroke="#111" stroke-width="0.3">HSCT</text>
<text x="444.76" y="316.80" font-size="9.50" fill="#111111" textLength="19.48" lengthAdjust="spacingAndGlyphs" stroke="#111" stroke-width="0.3">(years)</text>
<text transform="translate(305.60,186.00) rotate(-90)" x="-68.14" y="0" font-size="9.50" fill="#111111" textLength="21.85" lengthAdjust="spacingAndGlyphs" stroke="#111" stroke-width="0.3">Relapse</text>
<text x="331.60" y="328.80" font-size="8.10" text-anchor="end" fill="#111111" stroke="#111111" stroke-width="0.20" textLength="32.70" lengthAdjust="spacingAndGlyphs">No. at risk</text>
<text x="331.60" y="338.90" font-size="8.10" text-anchor="end" fill="#111111" stroke="#111111" stroke-width="0.20" textLength="48.30" lengthAdjust="spacingAndGlyphs">Chronic-phase</text>
<text x="331.60" y="348.00" font-size="8.10" text-anchor="end" fill="#111111" stroke="#111111" stroke-width="0.20" textLength="61.70" lengthAdjust="spacingAndGlyphs">Accelerated-phase</text>
<text x="344.00" y="339.00" font-size="8.10" text-anchor="middle" fill="#2a67a3" stroke="#2a67a3" stroke-width="0.20" textLength="12.70" lengthAdjust="spacingAndGlyphs">314</text>
<text x="344.00" y="348.50" font-size="8.10" text-anchor="middle" fill="#cf2745" stroke="#cf2745" stroke-width="0.20" textLength="8.46" lengthAdjust="spacingAndGlyphs">35</text>
<text x="376.62" y="339.00" font-size="8.10" text-anchor="middle" fill="#2a67a3" stroke="#2a67a3" stroke-width="0.20" textLength="12.70" lengthAdjust="spacingAndGlyphs">199</text>
<text x="376.62" y="348.50" font-size="8.10" text-anchor="middle" fill="#cf2745" stroke="#cf2745" stroke-width="0.20" textLength="8.46" lengthAdjust="spacingAndGlyphs">25</text>
<text x="409.24" y="339.00" font-size="8.10" text-anchor="middle" fill="#2a67a3" stroke="#2a67a3" stroke-width="0.20" textLength="12.70" lengthAdjust="spacingAndGlyphs">131</text>
<text x="409.24" y="348.50" font-size="8.10" text-anchor="middle" fill="#cf2745" stroke="#cf2745" stroke-width="0.20" textLength="8.46" lengthAdjust="spacingAndGlyphs">14</text>
<text x="441.86" y="339.00" font-size="8.10" text-anchor="middle" fill="#2a67a3" stroke="#2a67a3" stroke-width="0.20" textLength="8.46" lengthAdjust="spacingAndGlyphs">83</text>
<text x="441.86" y="348.50" font-size="8.10" text-anchor="middle" fill="#cf2745" stroke="#cf2745" stroke-width="0.20" textLength="8.46" lengthAdjust="spacingAndGlyphs">10</text>
<text x="474.48" y="339.00" font-size="8.10" text-anchor="middle" fill="#2a67a3" stroke="#2a67a3" stroke-width="0.20" textLength="8.46" lengthAdjust="spacingAndGlyphs">54</text>
<text x="474.48" y="348.50" font-size="8.10" text-anchor="middle" fill="#cf2745" stroke="#cf2745" stroke-width="0.20" textLength="4.23" lengthAdjust="spacingAndGlyphs">8</text>
<text x="507.10" y="339.00" font-size="8.10" text-anchor="middle" fill="#2a67a3" stroke="#2a67a3" stroke-width="0.20" textLength="8.46" lengthAdjust="spacingAndGlyphs">36</text>
<text x="507.10" y="348.50" font-size="8.10" text-anchor="middle" fill="#cf2745" stroke="#cf2745" stroke-width="0.20" textLength="4.23" lengthAdjust="spacingAndGlyphs">3</text>
<rect x="0.5" y="0.5" width="519" height="354" fill="none" stroke="#000" stroke-width="1"/>
</svg>
</body></html>
